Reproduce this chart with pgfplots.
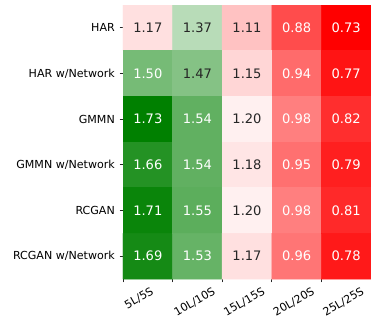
\documentclass[border=0pt]{standalone}
\usepackage{pgfplots}
\pgfplotsset{compat=1.18}
\usepackage{pgfplotstable}
\usepackage{fontspec}
\setmainfont{DejaVu Sans}
\definecolor{annot}{HTML}{262626}

% values, row by row (HAR on top)
\pgfplotstableread{
x y v
0 0 1.17
1 0 1.37
2 0 1.11
3 0 0.88
4 0 0.73
0 1 1.50
1 1 1.47
2 1 1.15
3 1 0.94
4 1 0.77
0 2 1.73
1 2 1.54
2 2 1.20
3 2 0.98
4 2 0.82
0 3 1.66
1 3 1.54
2 3 1.18
3 3 0.95
4 3 0.79
0 4 1.71
1 4 1.55
2 4 1.20
3 4 0.98
4 4 0.81
0 5 1.69
1 5 1.53
2 5 1.17
3 5 0.96
4 5 0.78
}\heat

% dark text on light cells, white text otherwise
\newcommand\cellcol{%
  \ifdim\pgfplotspointmetatransformed pt>300pt
    \ifdim\pgfplotspointmetatransformed pt<755pt \color{annot}\else\color{white}\fi
  \else\color{white}\fi}

\begin{document}
\begin{tikzpicture}
\useasboundingbox (-92.25pt,-32.25pt) rectangle (194.25pt,209.25pt);
\begin{axis}[
    width=186pt, height=205.5pt, scale only axis,
    xmin=-0.5, xmax=4.5, ymin=-0.5, ymax=5.5,
    y dir=reverse,
    enlargelimits=false,
    colormap={rwg}{rgb255=(255,0,0) rgb255=(255,255,255) rgb255=(0,128,0)},
    point meta min=0.73, point meta max=1.73,
    axis line style={draw=none},
    tick align=outside, xtick pos=bottom, ytick pos=left,
    major tick length=2.6pt,
    major tick style={draw=black!85, line width=0.6pt},
    xtick={-0.5,0.5,1.5,2.5,3.5},
    xticklabels={\rotatebox{30}{5L/5S},\rotatebox{30}{10L/10S},\rotatebox{30}{15L/15S},\rotatebox{30}{20L/20S},\rotatebox{30}{25L/25S}},
    xticklabel style={anchor=north west, inner sep=0pt, yshift=-3pt, font=\fontsize{8.3}{9}\selectfont},
    ytick={0,...,5},
    yticklabels={HAR,HAR w/Network,GMMN,GMMN w/Network,RCGAN,RCGAN w/Network},
    yticklabel style={font=\fontsize{8.3}{9}\selectfont},
    /pgf/number format/assume math mode=true,
]
\addplot[matrix plot*, mesh/cols=5, point meta=explicit,
    nodes near coords={\cellcol\pgfmathprintnumber[fixed,fixed zerofill,precision=2]{\pgfplotspointmeta}},
    nodes near coords align=center,
    every node near coord/.append style={font=\fontsize{9.8}{11}\selectfont, anchor=center},
] table[x=x, y=y, meta=v] {\heat};
\end{axis}
\end{tikzpicture}
\end{document}
